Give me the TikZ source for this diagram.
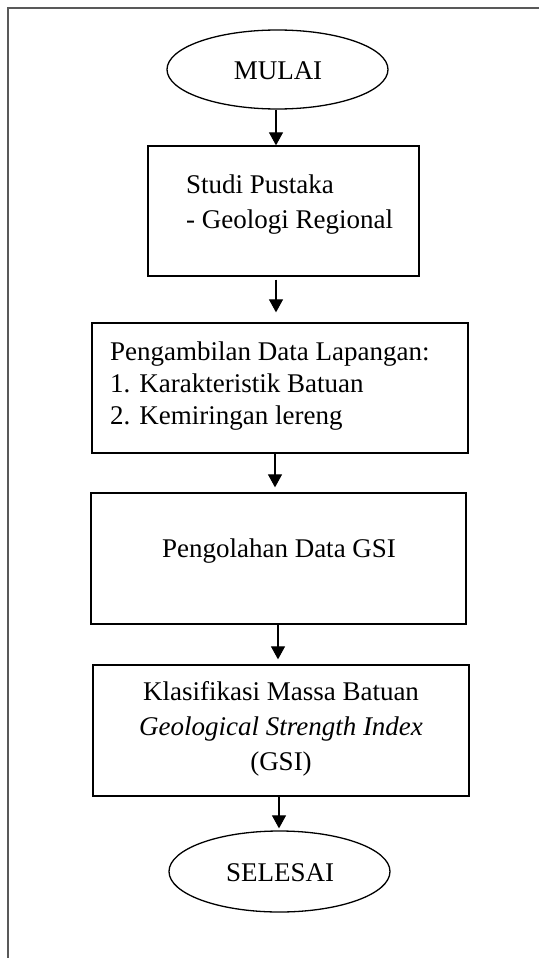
\documentclass[tikz,border=0pt]{standalone}
\usepackage{fontspec}
\setmainfont{Liberation Serif}
\usetikzlibrary{arrows.meta,shapes.geometric}
\tikzset{
  stepbox/.style={draw=black, line width=1.3pt, rectangle, inner sep=0pt},
  term/.style={draw=black, line width=1.3pt, ellipse, inner sep=0pt},
  txt/.style={inner sep=0pt, font=\fontsize{27}{32}\selectfont},
  arr/.style={line width=1.1pt, -{Triangle[width=14pt,length=13pt]}},
  frame/.style={draw=black!65, line width=1.6pt}
}
\begin{document}
\begin{tikzpicture}[x=1pt,y=-1pt]
\useasboundingbox (0,0) rectangle (539,958);
% outer frame (top and left only)
\coordinate (fbl) at (8,958);
\coordinate (ftl) at (8,8);
\coordinate (ftr) at (539,8);
\draw[frame] (fbl) -- (ftl) -- (ftr);

% shapes
\node[term, minimum width=221pt, minimum height=79pt] (mulai) at (277.5,69.5) {};
\node[stepbox, minimum width=271pt, minimum height=130pt] (b1) at (283.5,211) {};
\node[stepbox, minimum width=376pt, minimum height=130pt] (b2) at (280,388) {};
\node[stepbox, minimum width=375pt, minimum height=131pt] (b3) at (278.5,558.5) {};
\node[stepbox, minimum width=376pt, minimum height=131pt] (b4) at (281,730.5) {};
\node[term, minimum width=221pt, minimum height=81pt] (selesai) at (279.5,871.5) {};

% texts
\node[txt, anchor=base] (tmulai) at (278,80) {MULAI};
\node[txt, anchor=base west] (t1a) at (186,193) {Studi Pustaka};
\node[txt, anchor=base west] (t1b) at (186,228) {- Geologi Regional};
\node[txt, anchor=base west] (t2a) at (110,360) {Pengambilan Data Lapangan:};
\node[txt, anchor=base west] (t2b) at (110,392) {1. Karakteristik Batuan};
\node[txt, anchor=base west] (t2c) at (110,424) {2. Kemiringan lereng};
\node[txt, anchor=base] (t3) at (279,557) {Pengolahan Data GSI};
\node[txt, anchor=base] (t4a) at (281,700) {Klasifikasi Massa Batuan};
\node[txt, anchor=base] (t4b) at (281,735) {\itshape Geological Strength Index};
\node[txt, anchor=base] (t4c) at (281,770) {(GSI)};
\node[txt, anchor=base] (tselesai) at (280,881) {SELESAI};

% connectors
\coordinate (x1) at (276,0);
\coordinate (x2) at (276,0);
\coordinate (x3) at (275,0);
\coordinate (x4) at (278,0);
\coordinate (x5) at (279,0);
\draw[arr] (mulai.south -| x1) -- (b1.north -| x1);
\draw[arr, shorten <=3pt, shorten >=10pt] (b1.south -| x2) -- (b2.north -| x2);
\draw[arr, shorten >=5pt] (b2.south -| x3) -- (b3.north -| x3);
\draw[arr, shorten >=5pt] (b3.south -| x4) -- (b4.north -| x4);
\draw[arr, shorten >=2pt] (b4.south -| x5) -- (selesai.north -| x5);
\end{tikzpicture}
\end{document}
